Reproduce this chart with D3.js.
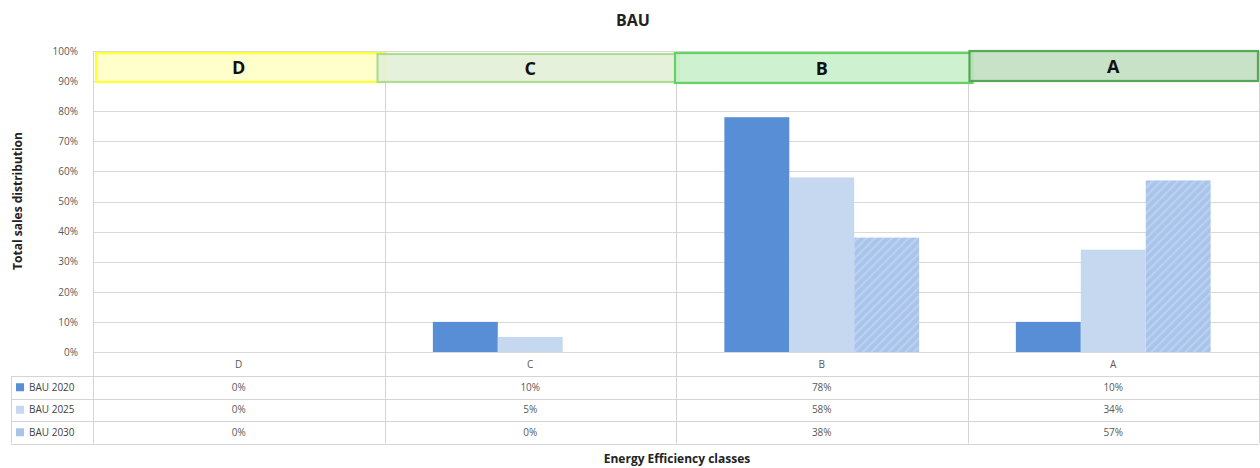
<!DOCTYPE html>
<html><head><meta charset="utf-8">
<script src="https://cdn.jsdelivr.net/npm/d3@7"></script>
<style>
html,body{margin:0;padding:0;background:#fff;}
svg{display:block;font-family:"Open Sans","Noto Sans",sans-serif;}
</style></head>
<body><svg id="c" width="1260" height="468"></svg>
<script>
const categories = ["D","C","B","A"];
const seriesNames = ["BAU 2020","BAU 2025","BAU 2030"];
const bau2020 = [0,10,78,10];
const bau2025 = [0,5,58,34];
const bau2030 = [0,0,38,57];
const yTicks = [0,10,20,30,40,50,60,70,80,90,100];
const classBoxes = ["D","C","B","A"];

const seriesValues = [bau2020, bau2025, bau2030];
const seriesColors = ["#578ed5","#c6d8f0","url(#hatch)"];
const legendColors = ["#578ed5","#c6d8f0","#a9c4eb"];
const boxFill = ["#ffffc6","#e3f0d8","#c9f0cb","#c1dfc1"];
const boxStroke = ["#ffff1a","#a6d884","#4dcc4d","#3f9c3f"];
const boxY = [[53,82],[54,82],[53,83],[51,81]];
const boxL = [3,-7,-1,2];
const boxR = [0,3,5,-1];

const svg = d3.select("#c");
const L = 93, R = 1259, T = 51, B = 352;
const rowY = [376, 398.5, 421, 443.5];

const defs = svg.append("defs");
const pat = defs.append("pattern").attr("id","hatch").attr("patternUnits","userSpaceOnUse")
  .attr("width",6).attr("height",6).attr("patternTransform","rotate(45)");
pat.append("rect").attr("width",6).attr("height",6).attr("fill","#a9c4eb");
pat.append("rect").attr("width",2.2).attr("height",6).attr("fill","#bcd1f0");

const x = d3.scaleBand().domain(categories).range([L, R]);
const xs = d3.scaleBand().domain(seriesNames).range([0, x.bandwidth()]).paddingOuter(0.745).paddingInner(0);
const y = d3.scaleLinear().domain([0,100]).range([B, T]);

// gridlines
svg.append("g").attr("transform",`translate(${L},0)`)
  .call(d3.axisLeft(y).tickValues(yTicks).tickSize(-(R-L)).tickFormat(""))
  .call(g=>g.select(".domain").remove())
  .call(g=>g.selectAll("line").attr("stroke","#d9d9d9").attr("stroke-width",1).attr("shape-rendering","crispEdges"));

// y labels
svg.append("g").attr("transform",`translate(${L-12},0)`)
  .call(d3.axisLeft(y).tickValues(yTicks).tickSize(0).tickFormat(d=>d+"%"))
  .call(g=>g.select(".domain").remove())
  .call(g=>g.selectAll("text").attr("fill","#595959").attr("font-size","10px").attr("font-family","'Open Sans',sans-serif").attr("dx","0"));

// vertical separators
const vx = [L, ...categories.slice(1).map(c=>x(c)), R];
svg.append("g").selectAll("line").data(vx).join("line")
  .attr("x1",d=>Math.round(d)+0.5).attr("x2",d=>Math.round(d)+0.5)
  .attr("y1",T).attr("y2",rowY[3]).attr("stroke","#d4d4d4");

// table horizontal lines
svg.append("g").selectAll("line").data(rowY).join("line")
  .attr("x1",11).attr("x2",R).attr("y1",d=>Math.round(d)+0.5).attr("y2",d=>Math.round(d)+0.5)
  .attr("stroke","#d4d4d4");
svg.append("line").attr("x1",11.5).attr("x2",11.5).attr("y1",rowY[0]).attr("y2",rowY[3]).attr("stroke","#d4d4d4");

// class boxes
const bx = svg.append("g");
classBoxes.forEach((c,i)=>{
  const x0 = x(c) + boxL[i], x1 = x(c)+x.bandwidth() + boxR[i];
  bx.append("rect").attr("x",x0).attr("y",boxY[i][0]).attr("width",x1-x0).attr("height",boxY[i][1]-boxY[i][0])
    .attr("fill",boxFill[i]).attr("fill-opacity",0.9).attr("stroke",boxStroke[i]).attr("stroke-width",2.2).attr("stroke-opacity",0.85);
  bx.append("text").attr("x",x(c)+x.bandwidth()/2).attr("y",(boxY[i][0]+boxY[i][1])/2+6.5)
    .attr("text-anchor","middle").attr("font-size","18px").attr("font-weight","bold").attr("fill","#111").text(c);
});

// bars
seriesNames.forEach((s,si)=>{
  svg.append("g").selectAll("rect").data(categories).join("rect")
    .attr("x",c=>x(c)+xs(s)).attr("width",xs.bandwidth())
    .attr("y",(c,i)=>y(seriesValues[si][i])).attr("height",(c,i)=>y(0)-y(seriesValues[si][i]))
    .attr("fill",seriesColors[si]);
});

// category labels
svg.append("g").selectAll("text").data(categories).join("text")
  .attr("x",c=>x(c)+x.bandwidth()/2).attr("y",368).attr("text-anchor","middle")
  .attr("font-size","10px").attr("fill","#595959").text(c=>c);

// table values
seriesNames.forEach((s,si)=>{
  const cy = (rowY[si]+rowY[si+1])/2 + 3.5;
  svg.append("g").selectAll("text").data(categories).join("text")
    .attr("x",c=>x(c)+x.bandwidth()/2).attr("y",cy).attr("text-anchor","middle")
    .attr("font-size","10px").attr("fill","#595959").text((c,i)=>seriesValues[si][i]+"%");
  svg.append("rect").attr("x",16).attr("y",cy-7.5).attr("width",8).attr("height",8).attr("fill",legendColors[si]);
  svg.append("text").attr("x",29).attr("y",cy).attr("font-size","10px").attr("fill","#404040").text(s);
});

// titles
svg.append("text").attr("x",633).attr("y",26).attr("text-anchor","middle").attr("font-size","16px").attr("font-weight","bold").attr("fill","#222").text("BAU");
svg.append("text").attr("transform","translate(22,201) rotate(-90)").attr("text-anchor","middle").attr("font-size","12px").attr("font-weight","bold").attr("fill","#222").text("Total sales distribution");
svg.append("text").attr("x",677).attr("y",463).attr("text-anchor","middle").attr("font-size","12px").attr("font-weight","bold").attr("fill","#222").text("Energy Efficiency classes");
</script></body></html>
